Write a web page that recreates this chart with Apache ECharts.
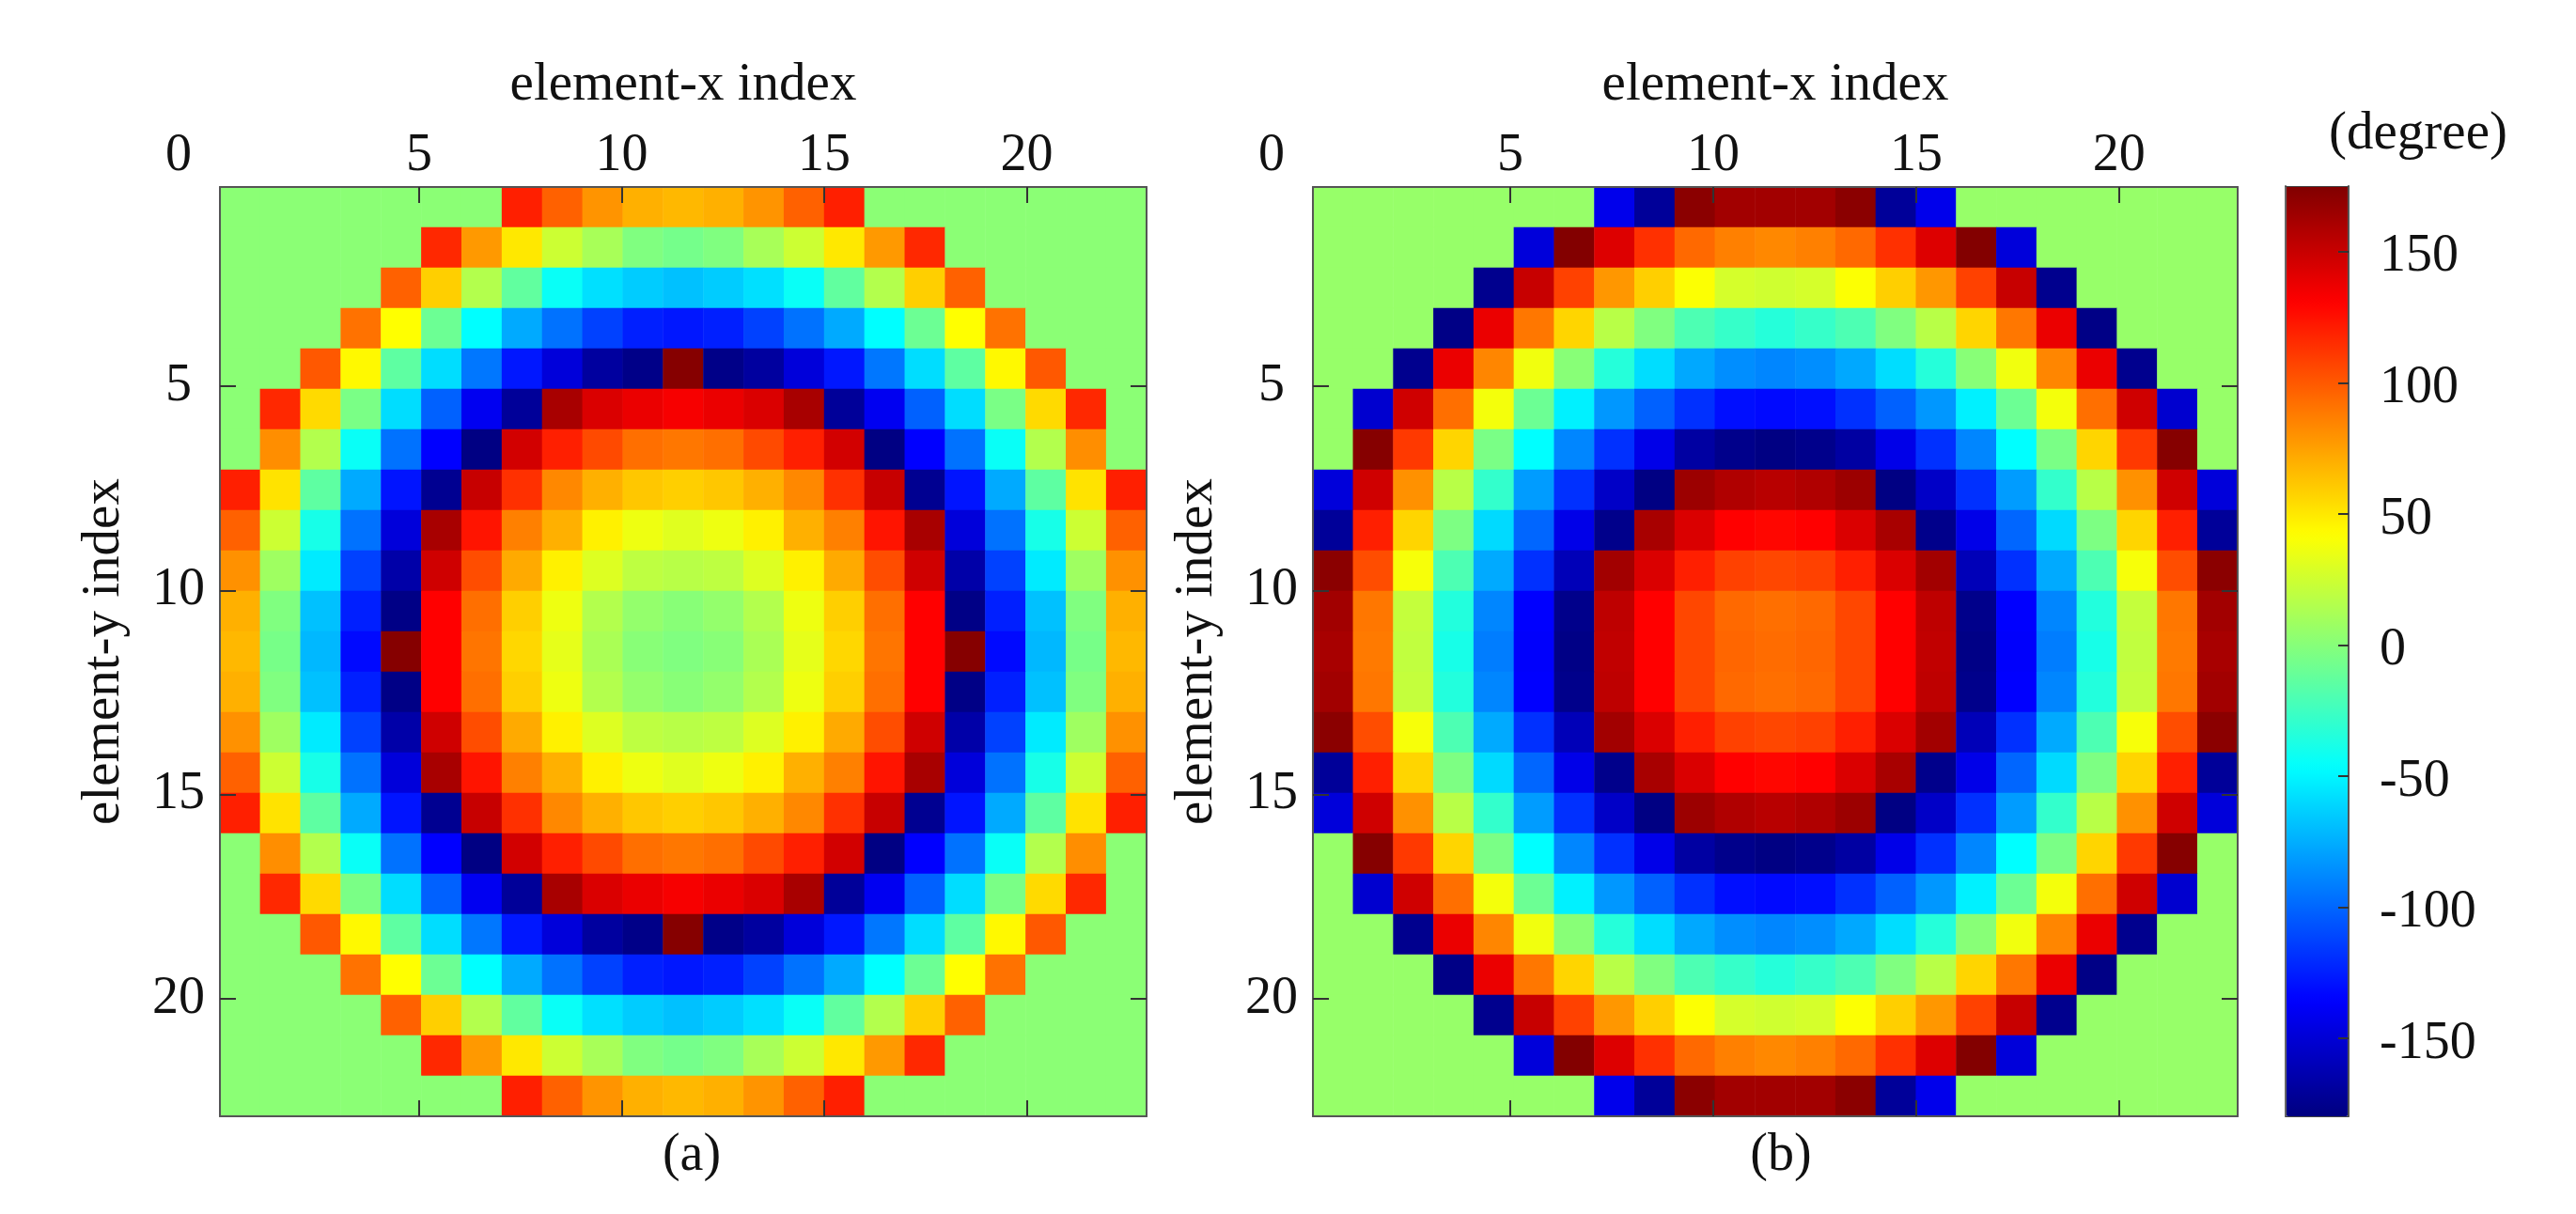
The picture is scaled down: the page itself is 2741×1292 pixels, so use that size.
<!DOCTYPE html>
<html>
<head>
<meta charset="utf-8">
<style>html,body{margin:0;padding:0;background:#fff}#c{width:2741px;height:1292px}</style>
<script src="https://cdn.jsdelivr.net/npm/echarts@6/dist/echarts.min.js"></script>
</head>
<body>
<div id="c"></div>
<script>
const indexCategories = ['0','1','2','3','4','5','6','7','8','9','10','11','12','13','14','15','16','17','18','19','20','21','22'];
const xTickLabels = [5, 10, 15, 20];
const yTickLabels = [5, 10, 15, 20];
const colorbarTicks = [150, 100, 50, 0, -50, -100, -150];
const jetColors = ['#000080','#0000ff','#0080ff','#00ffff','#80ff80','#ffff00','#ff8000','#ff0000','#800000'];

const A0 =[4,4,4,4,4,4,4,124,101,83,73,70,73,83,101,124,4,4,4,4,4,4,4];
const A1 =[4,4,4,4,4,121,81,53,27,14,0,-4,0,14,27,53,81,121,4,4,4,4,4];
const A2 =[4,4,4,4,101,62,18,-11,-42,-56,-63,-67,-63,-56,-42,-11,18,62,101,4,4,4,4];
const A3 =[4,4,4,95,45,-7,-45,-75,-95,-112,-124,-127,-124,-112,-95,-75,-45,-7,45,95,4,4,4];
const A4 =[4,4,104,47,-12,-57,-93,-127,-148,-169,-177,178,-177,-169,-148,-127,-93,-57,-12,47,104,4,4];
const A5 =[4,121,58,-2,-57,-101,-140,-171,166,148,142,138,142,148,166,-171,-140,-101,-57,-2,58,121,4];
const A6 =[4,85,18,-42,-95,-135,-179,151,124,109,96,93,96,109,124,151,-179,-135,-95,-42,18,85,4];
const A7 =[124,55,-12,-75,-128,-174,155,118,87,73,65,62,65,73,87,118,155,-174,-128,-75,-12,55,124];
const A8 =[101,27,-37,-95,-148,166,128,90,73,50,39,34,39,50,73,90,128,166,-148,-95,-37,27,101];
const A9 =[84,11,-52,-112,-166,152,108,75,50,33,22,20,22,33,50,75,108,152,-166,-112,-52,11,84];
const A10=[73,0,-67,-124,-178,135,96,62,39,18,7,3,7,18,39,62,96,135,-178,-124,-67,0,73];
const A11=[70,-3,-70,-132,178,135,94,59,36,15,3,0,3,15,36,59,94,135,178,-132,-70,-3,70];
const phaseA = [A0,A1,A2,A3,A4,A5,A6,A7,A8,A9,A10,A11,A10,A9,A8,A7,A6,A5,A4,A3,A2,A1,A0];

const B0 =[8,8,8,8,8,8,8,-142,-171,176,168,168,168,176,-171,-142,8,8,8,8,8,8,8];
const B1 =[8,8,8,8,8,-148,179,147,118,98,90,87,90,98,118,147,179,-148,8,8,8,8,8];
const B2 =[8,8,8,8,-175,155,112,82,62,44,30,28,30,44,62,82,112,155,-175,8,8,8,8];
const B3 =[8,8,8,-178,142,93,60,20,0,-18,-26,-32,-26,-18,0,20,60,93,142,-178,8,8,8];
const B4 =[8,8,-175,142,88,40,3,-32,-57,-76,-85,-88,-85,-76,-57,-32,3,40,88,142,-175,8,8];
const B5 =[8,-152,152,96,41,-7,-50,-82,-101,-118,-130,-132,-130,-118,-101,-82,-50,-7,41,96,152,-152,8];
const B6 =[8,178,115,60,-2,-45,-88,-118,-143,-168,-176,-179,-176,-168,-143,-118,-88,-45,-2,60,115,178,8];
const B7 =[-148,152,84,20,-27,-80,-118,-155,-179,170,163,160,163,170,-179,-155,-118,-80,-27,20,84,152,-148];
const B8 =[-171,124,60,-1,-58,-99,-143,-176,166,148,135,133,135,148,166,-176,-143,-99,-58,-1,60,124,-171];
const B9 =[176,108,42,-18,-75,-118,-160,168,148,124,112,110,112,124,148,168,-160,-118,-75,-18,42,108,176];
const B10=[168,93,24,-33,-88,-135,-176,158,135,110,98,96,98,110,135,158,-176,-135,-88,-33,24,93,168];
const B11=[166,92,23,-37,-91,-136,-178,157,135,110,99,97,99,110,135,157,-178,-136,-91,-37,23,92,166];
const phaseB = [B0,B1,B2,B3,B4,B5,B6,B7,B8,B9,B10,B11,B10,B9,B8,B7,B6,B5,B4,B3,B2,B1,B0];

const FONT = '"Liberation Serif","Times New Roman",serif';
const INK = '#111';
const LINE = '#555';
const fontSize = 56;

const panels = [
  {data: phaseA, name: '(a)', left: 234, width: 986, xRange: [0.081, 22.96], nameShift: 18},
  {data: phaseB, name: '(b)', left: 1397, width: 984, xRange: [0.139, 22.92], nameShift: 12}
];
const TOP = 199, HEIGHT = 989, YRANGE = [0.123, 22.875];

const grid = [], xAxis = [], yAxis = [], series = [];
const lineStyle = {show: true, onZero: false, lineStyle: {color: LINE, width: 2}};
const tickStyle = (vals) => ({show: true, inside: true, length: 17, customValues: vals, lineStyle: {color: '#333', width: 2}});
const textBase = {color: INK, fontFamily: FONT, fontSize: fontSize};

panels.forEach((p, i) => {
  grid.push({left: p.left, top: TOP, width: p.width, height: HEIGHT, containLabel: false});
  const xa = xAxis.length, ya = yAxis.length;
  // hidden band axes carrying the cells
  xAxis.push({type: 'category', gridIndex: i, show: false, data: indexCategories});
  yAxis.push({type: 'category', gridIndex: i, show: false, inverse: true, data: indexCategories});
  // visible axes: ticks, labels and names
  const xMin = p.xRange[0];
  xAxis.push({
    type: 'value', gridIndex: i, position: 'top', min: xMin, max: p.xRange[1], z: 10,
    splitLine: {show: false}, axisLine: lineStyle, axisTick: tickStyle(xTickLabels),
    name: 'element-x index', nameLocation: 'middle', nameGap: 79,
    nameTextStyle: {color: INK, fontFamily: FONT, fontSize: 57},
    axisLabel: {
      margin: 5, showMinLabel: true, customValues: [xMin].concat(xTickLabels),
      ...textBase,
      formatter: v => v === xMin ? '{zero|0}' : String(v),
      rich: {zero: {...textBase, padding: [0, 88, 0, 0]}}
    }
  });
  xAxis.push({
    type: 'value', gridIndex: i, position: 'bottom', min: xMin, max: p.xRange[1], z: 10,
    splitLine: {show: false}, axisLine: lineStyle, axisTick: tickStyle(xTickLabels),
    axisLabel: {show: false},
    name: p.name, nameLocation: 'middle', nameGap: 14,
    nameTextStyle: {color: INK, fontFamily: FONT, fontSize: 56, padding: [0, 0, 0, p.nameShift]}
  });
  yAxis.push({
    type: 'value', gridIndex: i, position: 'left', inverse: true, min: YRANGE[0], max: YRANGE[1], z: 10,
    splitLine: {show: false}, axisLine: lineStyle, axisTick: tickStyle(yTickLabels),
    axisLabel: {margin: 44, align: 'center', customValues: yTickLabels, ...textBase},
    name: 'element-y index', nameLocation: 'middle', nameGap: 94, nameRotate: 90,
    nameTextStyle: {color: INK, fontFamily: FONT, fontSize: 57}
  });
  yAxis.push({
    type: 'value', gridIndex: i, position: 'right', inverse: true, min: YRANGE[0], max: YRANGE[1], z: 10,
    splitLine: {show: false}, axisLine: lineStyle, axisTick: tickStyle(yTickLabels), axisLabel: {show: false}
  });
  const cells = [];
  p.data.forEach((row, r) => row.forEach((v, c) => cells.push([c, r, v])));
  series.push({
    type: 'heatmap', xAxisIndex: xa, yAxisIndex: ya, data: cells, progressive: 0,
    animation: false, emphasis: {disabled: true}, silent: true, itemStyle: {borderWidth: 0}
  });
});

// colour bar scale
grid.push({left: 2432, top: 198, width: 67, height: 990});
const cbGrid = grid.length - 1;
xAxis.push({type: 'value', gridIndex: cbGrid, position: 'top', min: 0, max: 1, z: 10, axisLine: {show: true, onZero: false, lineStyle: {color: '#444', width: 1}}, axisTick: {show: false}, axisLabel: {show: false}, splitLine: {show: false}});
xAxis.push({type: 'value', gridIndex: cbGrid, position: 'bottom', min: 0, max: 1, z: 10, axisLine: {show: true, onZero: false, lineStyle: {color: '#444', width: 1}}, axisTick: {show: false}, axisLabel: {show: false}, splitLine: {show: false}});
yAxis.push({type: 'value', gridIndex: cbGrid, position: 'left', min: -179.7, max: 175, z: 10, axisLine: {show: true, onZero: false, lineStyle: {color: '#666', width: 2}}, axisTick: {show: false}, axisLabel: {show: false}, splitLine: {show: false}});
yAxis.push({
  type: 'value', gridIndex: cbGrid, position: 'right', min: -179.7, max: 175, z: 10,
  axisLine: {show: true, onZero: false, lineStyle: {color: '#555', width: 2}},
  axisTick: {show: true, inside: true, length: 11, customValues: colorbarTicks, lineStyle: {color: '#333', width: 2}},
  axisLabel: {
    margin: 33, align: 'left', customValues: colorbarTicks, ...textBase,
    formatter: v => '{v|' + v + '}',
    rich: {v: {...textBase, padding: [12, 0, 0, 0]}}
  },
  splitLine: {show: false}
});

const chart = echarts.init(document.getElementById('c'), null, {renderer: 'canvas'});
chart.setOption({
  animation: false,
  backgroundColor: '#fff',
  title: {text: '(degree)', left: 2573, top: 115, textAlign: 'center', padding: 0,
    textStyle: {color: INK, fontFamily: FONT, fontSize: 57, fontWeight: 'normal'}},
  grid, xAxis, yAxis, series,
  visualMap: {
    type: 'continuous', seriesIndex: [0, 1], dimension: 2, min: -180, max: 180,
    left: 2432, top: 198, itemWidth: 67, itemHeight: 990, padding: 0,
    calculable: false, hoverLink: false, text: null, z: 4,
    inRange: {color: jetColors}, textStyle: {color: 'transparent'}
  }
});
</script>
</body>
</html>
